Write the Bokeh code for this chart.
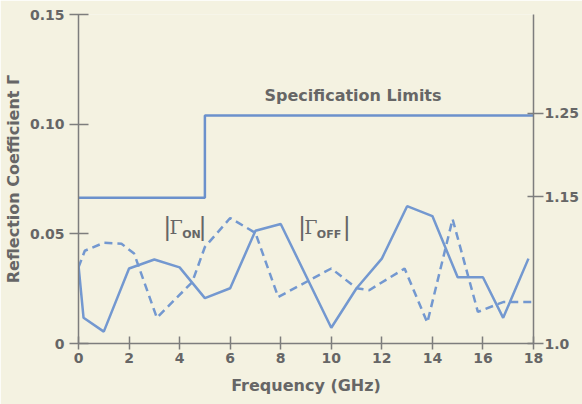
from bokeh.plotting import figure
from bokeh.models import LinearAxis, FixedTicker, Label
from bokeh.embed import file_html
from bokeh.resources import INLINE

# ---- data ----
freq_ticks = [0, 2, 4, 6, 8, 10, 12, 14, 16, 18]
gamma_ticks = [0, 0.05, 0.10, 0.15]
gamma_labels = ["0", "0.05", "0.10", "0.15"]
swr_ticks = [0, 0.067, 0.105]          # reflection-coefficient positions of SWR ticks
swr_labels = ["1.0", "1.15", "1.25"]

spec_freq = [0, 5, 18]
spec_gamma = [0.0664, 0.104, 0.104]

off_freq = [0, 0.2, 1.0, 2.0, 3.0, 4.0, 5.0, 6.0, 7.0, 8.0, 10.0, 11.0, 12.0, 13.0, 14.0, 15.0, 16.0, 16.8, 17.8]
off_gamma = [0.0356, 0.0117, 0.0054, 0.0342, 0.0383, 0.0347, 0.0207, 0.0252, 0.0514, 0.0545,
             0.0072, 0.0252, 0.0387, 0.0626, 0.0581, 0.0302, 0.0302, 0.0117, 0.0387]

on_freq = [0, 0.25, 1.0, 1.7, 2.2, 3.1, 4.5, 5.0, 6.0, 7.0, 7.9, 10.0, 11.0, 11.5, 12.9, 13.8, 14.8, 15.8, 16.8, 18.0]
on_gamma = [0.0347, 0.0423, 0.0459, 0.0455, 0.041, 0.0117, 0.028, 0.044, 0.0572, 0.0504, 0.0212,
            0.0342, 0.0252, 0.0243, 0.0342, 0.0095, 0.0567, 0.0144, 0.0189, 0.0189]

BG = "#f4f2e1"
BLUE = "#7398d0"
GRAY = "#666666"
AXC = "#7d7d7d"
FONT = "DejaVu Sans"

p = figure(width=582, height=404, x_range=(0, 18), y_range=(0, 0.15),
           output_backend="svg", toolbar_location=None,
           min_border_left=77, min_border_right=49, min_border_top=14, min_border_bottom=61,
           x_axis_label="Frequency (GHz)", y_axis_label="Reflection Coefficient Γ")
p.background_fill_color = BG
p.border_fill_color = BG
p.outline_line_color = None
p.grid.visible = False

def style_axis(ax):
    ax.axis_line_color = AXC
    ax.axis_line_width = 1.5
    ax.major_tick_line_color = AXC
    ax.major_tick_line_width = 1.5
    ax.minor_tick_line_color = None
    ax.major_label_text_color = GRAY
    ax.major_label_text_font = FONT
    ax.major_label_text_font_style = "bold"
    ax.major_label_text_font_size = "14px"
    ax.axis_label_text_color = GRAY
    ax.axis_label_text_font = FONT
    ax.axis_label_text_font_style = "bold"
    ax.axis_label_text_font_size = "16px"

xa = p.xaxis[0]
style_axis(xa)
xa.ticker = FixedTicker(ticks=freq_ticks)
xa.major_tick_in = 7
xa.major_tick_out = 6
xa.major_label_standoff = 3
xa.axis_label_standoff = 10

ya = p.yaxis[0]
style_axis(ya)
ya.ticker = FixedTicker(ticks=gamma_ticks)
ya.major_label_overrides = dict(zip(gamma_ticks, gamma_labels))
ya.major_tick_in = 10
ya.major_tick_out = 9
ya.major_label_standoff = 5
ya.axis_label_standoff = 4

ra = LinearAxis()
style_axis(ra)
ra.ticker = FixedTicker(ticks=swr_ticks)
ra.major_label_overrides = dict(zip(swr_ticks, swr_labels))
ra.major_tick_in = 6
ra.major_tick_out = 10
ra.major_label_standoff = 1
p.add_layout(ra, "right")

# curves
p.step(spec_freq, spec_gamma, mode="after", line_color="#6b91cc", line_width=2.5)
p.line(off_freq, off_gamma, line_color=BLUE, line_width=2.5)
p.line(on_freq, on_gamma, line_color=BLUE, line_width=2.5, line_dash="8 5")

def lab(x, y, t, size, font=FONT, style="bold", align="left", baseline="middle"):
    p.add_layout(Label(x=x, y=y, text=t, text_font=font, text_font_size=size,
                       text_font_style=style, text_color=GRAY,
                       text_align=align, text_baseline=baseline))

lab(10.86, 0.113, "Specification Limits", "16px", align="center")
lab(18.6, 0.138, "SWR", "13px")

# |Γ_ON|
lab(3.35, 0.0533, "|", "24px", style="normal")
lab(3.6, 0.0533, "Γ", "19px", font="DejaVu Serif", style="normal")
lab(4.1, 0.0495, "ON", "11px")
lab(4.75, 0.0533, "|", "24px", style="normal")
# |Γ_OFF|
lab(8.68, 0.0533, "|", "24px", style="normal")
lab(8.93, 0.0533, "Γ", "19px", font="DejaVu Serif", style="normal")
lab(9.43, 0.0495, "OFF", "11px")
lab(10.45, 0.0533, "|", "24px", style="normal")

open("out.html", "w").write(file_html(p, INLINE))
